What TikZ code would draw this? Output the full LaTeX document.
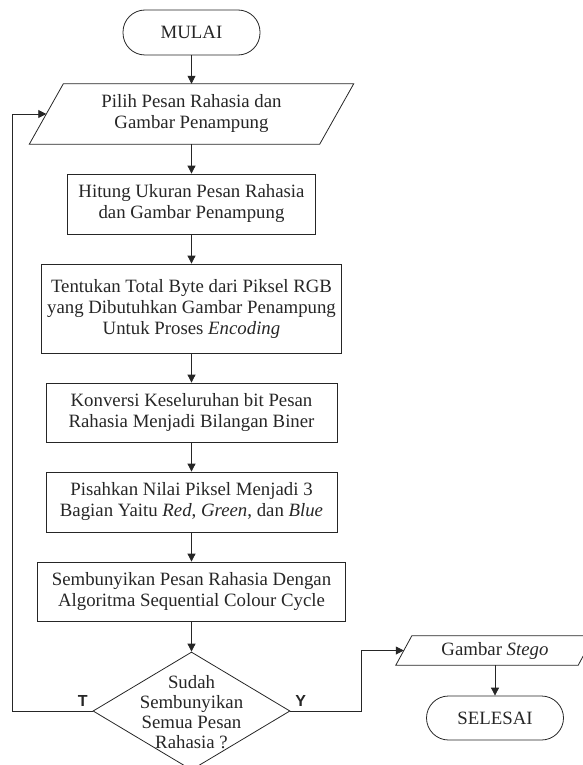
\documentclass[tikz,border=0pt]{standalone}
\usepackage{fontspec}
\setmainfont{Liberation Serif}
\newfontfamily\lblfont{Liberation Sans}
\usetikzlibrary{shapes.geometric,arrows.meta}

\begin{document}
\begin{tikzpicture}[x=1pt,y=-1pt,
  every node/.style={font=\fontsize{18.8}{21}\selectfont, align=center, inner sep=0pt, text=black!85},
  lines/.style={line width=0.8pt, draw=black!85},
  procbox/.style={lines, rectangle},
  termbox/.style={lines, rectangle, rounded corners=22pt, minimum width=137pt, minimum height=45pt},
  decbox/.style={lines, diamond, minimum width=197pt, minimum height=118pt},
  iobox/.style={rectangle},
  arr/.style={lines, -{Triangle[length=8pt,width=8pt]}},
  lbl/.style={font=\lblfont\bfseries\fontsize{16}{16}\selectfont}
]
\useasboundingbox (0,0) rectangle (582,765);

% nodes
\node[termbox] (start) at (191.5,32.5) {MULAI};
\node[iobox, minimum width=290pt, minimum height=60pt] (in1) at (191.5,114)
  {Pilih Pesan Rahasia dan\\Gambar Penampung};
\draw[lines] ([xshift=17pt]in1.north west) -- ([xshift=17pt]in1.north east)
  -- ([xshift=-17pt]in1.south east) -- ([xshift=-17pt]in1.south west) -- cycle;
\node[procbox, minimum width=248pt, minimum height=60pt] (p1) at (191.5,204)
  {Hitung Ukuran Pesan Rahasia\\dan Gambar Penampung};
\node[procbox, minimum width=300pt, minimum height=89pt] (p2) at (191.5,308.5)
  {Tentukan Total Byte dari Piksel RGB\\yang Dibutuhkan Gambar Penampung\\Untuk Proses \textit{Encoding}};
\node[procbox, minimum width=291pt, minimum height=59pt] (p3) at (191.5,412.5)
  {Konversi Keseluruhan bit Pesan\\Rahasia Menjadi Bilangan Biner};
\node[procbox, minimum width=291pt, minimum height=60pt] (p4) at (191.5,502)
  {Pisahkan Nilai Piksel Menjadi 3\\Bagian Yaitu \textit{Red}, \textit{Green}, dan \textit{Blue}};
\node[procbox, minimum width=308pt, minimum height=59pt] (p5) at (191.5,591.5)
  {Sembunyikan Pesan Rahasia Dengan\\Algoritma Sequential Colour Cycle};
\node[decbox] (dec) at (191.5,711) {};
\node[font=\fontsize{18.8}{20}\selectfont] (dectext) at (191.5,712)
  {Sudah\\Sembunyikan\\Semua Pesan\\Rahasia ?};
\node[iobox, minimum width=182pt, minimum height=29pt] (out) at (495,650.5)
  {Gambar \textit{Stego}};
\draw[lines] ([xshift=8pt]out.north west) -- ([xshift=8pt]out.north east)
  -- ([xshift=-8pt]out.south east) -- ([xshift=-8pt]out.south west) -- cycle;
\node[termbox, minimum height=44pt] (end) at (495,718) {SELESAI};

\node[lbl] (tl) at (82.7,700.5) {T};
\node[lbl] (yl) at (300.7,700.5) {Y};

\coordinate (fbx) at (12.7,0);
\coordinate (yx) at (361,0);

% connectors
\draw[arr] (start) -- (in1);
\draw[arr] (in1) -- (p1);
\draw[arr] (p1) -- (p2);
\draw[arr] (p2) -- (p3);
\draw[arr] (p3) -- (p4);
\draw[arr] (p4) -- (p5);
\draw[arr] (p5) -- (dec);
\draw[arr] (dec.west) -- (dec.west -| fbx) |- (in1.west);
\draw[arr] (dec.east) -- (dec.east -| yx) |- (out.west);
\draw[arr] (out) -- (end);
\end{tikzpicture}
\end{document}
